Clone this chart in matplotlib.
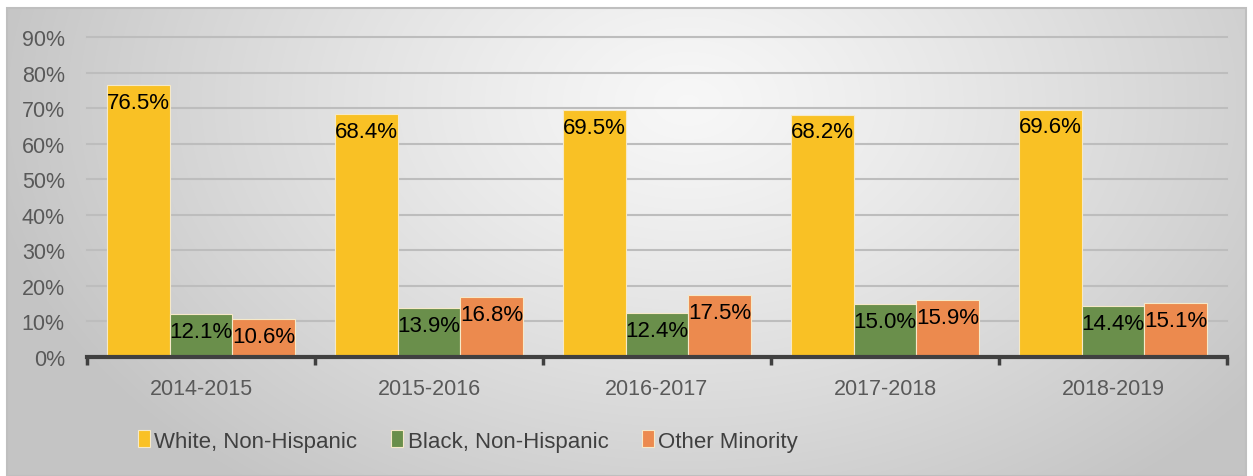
import numpy as np
import matplotlib.pyplot as plt
from matplotlib.patches import Rectangle

years = ['2014-2015', '2015-2016', '2016-2017', '2017-2018', '2018-2019']
white = [76.5, 68.4, 69.5, 68.2, 69.6]
black = [12.1, 13.9, 12.4, 15.0, 14.4]
other = [10.6, 16.8, 17.5, 15.9, 15.1]
series_names = ['White, Non-Hispanic', 'Black, Non-Hispanic', 'Other Minority']
colors = ['#F9C125', '#6A8F4B', '#EC8A4E']

plt.rcParams['font.family'] = ['Liberation Sans', 'DejaVu Sans']

W, H = 1253, 477
fig = plt.figure(figsize=(W / 100, H / 100), dpi=100)
fig.patch.set_facecolor('white')

# background panel, soft radial gradient
bg = fig.add_axes([0, 0, 1, 1], zorder=-5)
bg.set_xlim(0, W)
bg.set_ylim(H, 0)
bg.axis('off')
x0, x1, y0, y1 = 7, 1246, 9, 477
xx, yy = np.meshgrid(np.linspace(-1, 1, 400), np.linspace(-1, 1, 200))
r = np.sqrt(((xx - 0.1) * 1.0) ** 2 + ((yy + 0.6) * 0.55) ** 2)
r = np.clip(r, 0, 1.15) / 1.15
g = 0.97 - 0.20 * r ** 1.2
img = np.dstack([g, g, g])
bg.imshow(img, extent=(x0, x1, y1, y0), aspect='auto', interpolation='bilinear')
bg.add_patch(Rectangle((x0, y0), x1 - x0, y1 - y0, fill=False, edgecolor='#bfbfbf', lw=1.5))

ax = fig.add_axes([87 / W, 1 - 358 / H, (1227 - 87) / W, (358 - 38) / H])
ax.set_facecolor('none')

x = np.arange(len(years))
bw = 0.274
data = [white, black, other]
for i, (vals, c, name) in enumerate(zip(data, colors, series_names)):
    pos = x + (i - 1) * bw
    ax.bar(pos, vals, width=bw, color=c, edgecolor='#f6e9c8', linewidth=0.8, label=name, zorder=3)
    for p, v in zip(pos, vals):
        ax.annotate(f'{v:.1f}%', (p, v), xytext=(0, -5), textcoords='offset points',
                    ha='center', va='top', fontsize=16, color='black', zorder=4)

ax.set_xlim(-0.5, len(years) - 0.5)
ax.set_ylim(0, 90)
ax.set_yticks(np.arange(0, 91, 10))
ax.set_yticklabels([f'{t}%' for t in range(0, 91, 10)])
ax.yaxis.grid(True, color='#bdbdbd', lw=1.5, zorder=0)
for gl in ax.get_ygridlines():
    gl.set_clip_on(False)
ax.set_xticks(x)
ax.set_xticklabels(years)
ax.set_xticks(np.arange(-0.5, len(years), 1), minor=True)
ax.tick_params(axis='x', which='major', length=0, pad=15, labelsize=15.5, labelcolor='#595959')
ax.tick_params(axis='x', which='minor', length=6, width=2.5, color='#404040', direction='out')
ax.tick_params(axis='y', length=0, pad=16, labelsize=15.5, labelcolor='#595959')
for s in ['top', 'right', 'left']:
    ax.spines[s].set_visible(False)
ax.spines['bottom'].set_color('#404040')
ax.spines['bottom'].set_linewidth(3)
ax.spines['bottom'].set_zorder(5)

fig.legend(loc='center', bbox_to_anchor=(468 / W, 1 - 442 / H), ncol=3, frameon=False,
           fontsize=16, handlelength=0.55, handleheight=0.8, handletextpad=0.2, columnspacing=1.5,
           labelcolor='#404040')

fig.savefig('out.png', dpi=100)
